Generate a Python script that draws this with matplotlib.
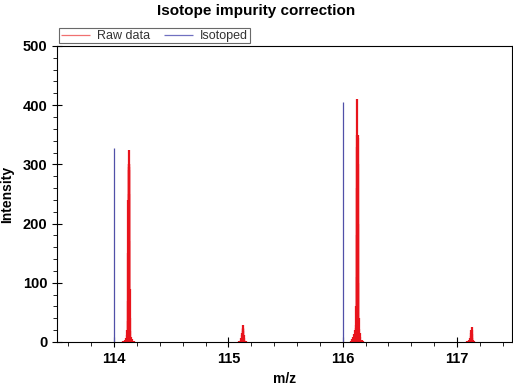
import matplotlib.pyplot as plt
from matplotlib.ticker import MultipleLocator

plt.rcParams['font.family'] = ['Liberation Sans', 'DejaVu Sans']

# raw data sticks (m/z, intensity)
raw_mz = [
    114.080, 114.090, 114.099, 114.106, 114.111, 114.115, 114.118, 114.120, 114.122,
    114.124, 114.126, 114.127, 114.128, 114.129, 114.130, 114.132, 114.134, 114.136,
    114.139, 114.143, 114.148, 114.155, 114.164, 114.175,
    115.090, 115.100, 115.108, 115.114, 115.118, 115.121, 115.124, 115.126, 115.128,
    115.130, 115.132, 115.135, 115.139, 115.145, 115.155,
    116.070, 116.082, 116.093, 116.101, 116.107, 116.112, 116.116, 116.119, 116.121,
    116.123, 116.125, 116.126, 116.127, 116.128, 116.129, 116.130, 116.132, 116.134,
    116.136, 116.139, 116.143, 116.148, 116.155, 116.165, 116.178,
    117.090, 117.100, 117.108, 117.114, 117.118, 117.121, 117.124, 117.126, 117.128,
    117.130, 117.133, 117.137, 117.143, 117.152,
]
raw_int = [
    1, 2, 4, 7, 12, 20, 35, 70, 150,
    240, 290, 300, 325, 300, 295, 250, 170, 90,
    40, 18, 9, 5, 2, 1,
    1, 2, 4, 7, 11, 16, 22, 28, 24,
    18, 12, 7, 4, 2, 1,
    2, 5, 9, 14, 20, 24, 28, 60, 110,
    180, 260, 330, 350, 410, 350, 345, 300, 200,
    100, 40, 22, 15, 9, 4, 1,
    1, 2, 3, 6, 10, 15, 20, 25, 20,
    13, 7, 4, 2, 1,
]

# isotope corrected sticks
iso_mz = [114.0, 116.0]
iso_int = [327, 405]

fig = plt.figure(figsize=(5.13, 3.86), dpi=100)
ax = fig.add_axes([0.111, 0.114, 0.887, 0.767])

ax.vlines(raw_mz, 0, raw_int, color='#e8141c', linewidth=1.6, label='Raw data')
ax.vlines(iso_mz, 0, iso_int, color='#5050a8', linewidth=0.9, label='Isotoped')

ax.set_xlim(113.5, 117.48)
ax.set_ylim(0, 500)
ax.xaxis.set_major_locator(MultipleLocator(1))
ax.xaxis.set_minor_locator(MultipleLocator(0.2))
ax.yaxis.set_major_locator(MultipleLocator(100))
ax.yaxis.set_minor_locator(MultipleLocator(20))
ax.tick_params(which='major', direction='inout', length=7, width=0.8, labelsize=10.5)
ax.tick_params(which='minor', direction='out', length=3, width=0.6)
ax.tick_params(top=False, right=False)
for lab in ax.get_xticklabels() + ax.get_yticklabels():
    lab.set_fontweight('bold')
for s in ax.spines.values():
    s.set_linewidth(0.8)

ax.set_xlabel('m/z', fontsize=10, fontweight='bold')
ax.set_ylabel('Intensity', fontsize=10, fontweight='bold')
ax.xaxis.set_label_coords(0.5, -0.1)
ax.yaxis.set_label_coords(-0.094, 0.5)
fig.suptitle('Isotope impurity correction', fontsize=11, fontweight='bold', y=0.99)

leg = ax.legend(loc='lower left', bbox_to_anchor=(0.0, 1.0), ncol=2, frameon=True,
                fancybox=False, fontsize=9, handlelength=2.3, handletextpad=0.6,
                borderpad=0.12, columnspacing=1.1, borderaxespad=0.2)
leg.get_frame().set_edgecolor('#444444')
leg.get_frame().set_linewidth(0.8)
for h, c in zip(leg.legend_handles, ['#f07070', '#7070c0']):
    h.set_linewidth(0.9)
    h.set_color(c)
for t in leg.get_texts():
    t.set_color('#333333')

fig.savefig('out.png', dpi=100)
